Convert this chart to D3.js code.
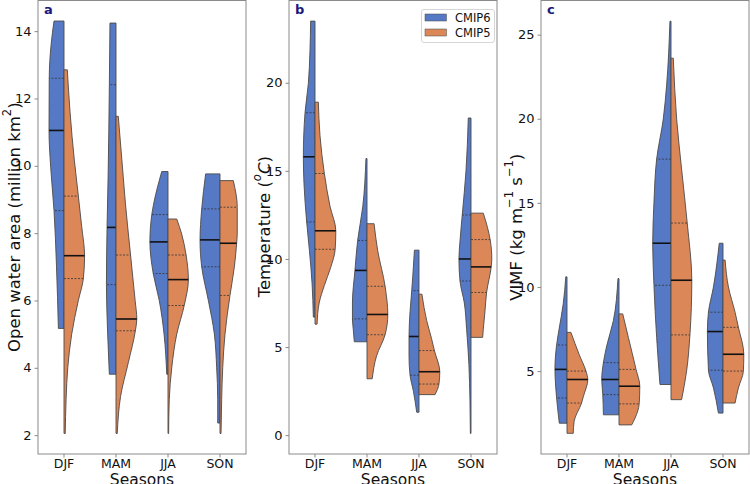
<!DOCTYPE html>
<html><head><meta charset="utf-8">
<script src="https://cdn.jsdelivr.net/npm/d3@7"></script>
<style>body{margin:0;background:#fff}svg{display:block;font-family:"DejaVu Sans",sans-serif}</style>
</head><body><svg id="c" width="750" height="484"></svg>
<script>
const seasons = ["DJF","MAM","JJA","SON"];
const seriesNames = ["CMIP6","CMIP5"];
const seriesColors = ["#5679C5","#DC8758"];

// Panel a: Open water area — [season][series] = [q1, median, q3]
const owaQuartiles = [
  [[8.67,11.05,12.6],[6.65,7.33,9.1]],
  [[6.47,8.17,12.41],[5.1,5.45,7.35]],
  [[6.8,7.74,8.55],[5.85,6.62,7.35]],
  [[7.0,7.8,8.72],[6.15,7.7,8.77]]
];
// density outline [value, relative half-width], from max to min
const owaProfiles = [
  [[[14.3,.48],[13.6,.62],[12.6,.71],[11.05,.72],[9.95,.64],[8.67,.48],[7.0,.36],[5.17,.27]],
   [[12.85,.16],[11.6,.29],[10.15,.50],[9.1,.69],[8.2,.85],[7.33,.99],[6.65,.93],[6.0,.69],[5.0,.37],[4.0,.18],[3.05,.10],[2.05,.06]]],
  [[[14.24,.29],[12.4,.32],[9.66,.38],[8.17,.43],[6.47,.46],[5.0,.40],[3.81,.32]],
   [[11.47,.11],[9.66,.35],[8.9,.45],[7.35,.70],[6.0,.92],[5.45,1.0],[5.1,.93],[4.15,.59],[3.15,.22],[2.05,.06]]],
  [[[9.83,.30],[8.93,.67],[8.55,.78],[7.74,.87],[6.8,.71],[6.0,.42],[5.0,.19],[3.81,.06]],
   [[8.42,.42],[7.97,.66],[7.35,.87],[6.62,.98],[5.85,.78],[5.0,.42],[4.0,.18],[3.05,.06],[2.05,.03]]],
  [[[9.76,.69],[8.72,.88],[7.8,.96],[7.0,.88],[6.0,.56],[5.0,.27],[4.0,.16],[3.05,.11],[2.36,.11]],
   [[9.56,.64],[8.77,.83],[8.0,.83],[7.7,.80],[7.0,.69],[6.15,.48],[5.0,.24],[4.0,.13],[3.05,.08],[2.05,.05]]]
];
const owaTicks = [2,4,6,8,10,12,14];

// Panel b: Temperature
const tempQuartiles = [
  [[12.1,15.8,18.3],[10.55,11.6,14.85]],
  [[6.6,9.35,11.05],[5.7,6.85,8.45]],
  [[3.4,5.6,8.2],[2.9,3.6,4.8]],
  [[8.75,10.0,12.5],[8.1,9.55,11.1]]
];
const tempProfiles = [
  [[[23.5,.21],[21.85,.24],[19.96,.32],[18.3,.48],[15.8,.56],[14.3,.53],[12.1,.40],[10.5,.27],[8.6,.14],[6.7,.08]],
   [[18.9,.16],[17,.24],[14.85,.45],[13,.72],[11.6,1.0],[10.55,.97],[9.5,.75],[8.5,.45],[7.5,.2],[6.3,.1]]],
  [[[15.7,.05],[13,.2],[11.05,.45],[9.35,.58],[7.5,.7],[6.6,.7],[6.0,.66],[5.3,.61]],
   [[12.0,.34],[10.5,.51],[8.45,.87],[6.85,1.0],[5.7,.87],[4.5,.46],[3.2,.25]]],
  [[[10.5,.22],[9,.3],[8.2,.35],[7,.43],[5.6,.48],[4.5,.48],[3.4,.43],[2.5,.27],[1.3,.11]],
   [[8.0,.14],[6.5,.37],[5.5,.6],[4.8,.74],[3.6,1.0],[2.9,.96],[2.3,.77]]],
  [[[18,.13],[15,.24],[12.5,.42],[11,.53],[10,.58],[8.75,.53],[7.5,.32],[6,.21],[4,.1],[2,.05],[0.1,.03]],
   [[12.6,.59],[11.8,.79],[11.1,.92],[10,1.0],[9.55,.97],[8.1,.75],[7,.67],[6,.59],[5.55,.56]]]
];
const tempTicks = [0,5,10,15,20];

// Panel c: VIMF
const vimfQuartiles = [
  [[3.4,5.1,6.55],[3.1,4.5,5.0]],
  [[3.6,4.5,5.5],[3.05,4.1,5.1]],
  [[10.1,12.6,17.6],[7.15,10.4,13.8]],
  [[5.05,7.35,8.5],[5.0,6.0,7.6]]
];
const vimfProfiles = [
  [[[10.6,.06],[9,.18],[7.5,.38],[6.55,.5],[5.1,.58],[4,.54],[3.4,.5],[1.9,.37]],
   [[7.3,.19],[6,.58],[5.0,.91],[4.5,1.0],[3.5,.79],[3.1,.7],[2.0,.34],[1.3,.3]]],
  [[[10.5,.05],[8,.27],[6.5,.59],[5.5,.75],[4.5,.83],[3.6,.78],[2.4,.75]],
   [[8.4,.18],[7,.45],[5.1,.82],[4.1,1.0],[3.05,.97],[2.2,.77],[1.8,.61]]],
  [[[25.8,.05],[22,.21],[20,.37],[17.6,.69],[15,.82],[12.6,.88],[10.1,.82],[7,.69],[4.2,.53]],
   [[23.6,.11],[20,.27],[17,.51],[13.8,.78],[10.4,1.0],[7.15,.91],[5,.75],[3.3,.51]]],
  [[[12.6,.18],[10,.46],[8.5,.7],[7.35,.75],[5.05,.7],[4,.46],[2.5,.22]],
   [[11.6,.1],[10,.26],[8.5,.58],[7.6,.74],[6.0,1.0],[5.0,.98],[4,.74],[3.1,.58]]]
];
const vimfTicks = [5,10,15,20,25];

const panels = [
  {letter:"a", x0:38, x1:246, domain:[1.44,14.91], ticks:owaTicks, q:owaQuartiles, p:owaProfiles, labelX:14,
   label:[["Open water area (million km",0],["2",1],[")",0]]},
  {letter:"b", x0:289, x1:497, domain:[-1.07,24.67], ticks:tempTicks, q:tempQuartiles, p:tempProfiles, labelX:264,
   label:[["Temperature (",0],["o",1,"italic"],["C",0,"italic"],[")",0]], legend:true},
  {letter:"c", x0:541, x1:749, domain:[0.07,27.03], ticks:vimfTicks, q:vimfQuartiles, p:vimfProfiles, labelX:516,
   label:[["VIMF  (kg m",0],["\u22121",1],[" s",0],["\u22121",1],[")",0]]}
];
const plotTop = 0.5, plotBottom = 454;
const svg = d3.select("#c");
const frameColor = "#8a8a8a", edgeColor = "#4a4a4a";

panels.forEach(P => {
  const g = svg.append("g");
  const x = d3.scaleBand().domain(seasons).range([P.x0, P.x1]);
  const y = d3.scaleLinear().domain(P.domain).range([plotBottom, plotTop]);
  const bw = x.bandwidth();
  const halfW = bw * 0.4;

  seasons.forEach((s, si) => {
    const cx = x(s) + bw / 2;
    [0, 1].forEach(k => {
      const prof = P.p[si][k];
      const dir = k === 0 ? -1 : 1;
      const area = d3.area()
        .y(d => y(d[0]))
        .x0(cx)
        .x1(d => cx + dir * d[1] * halfW)
        .curve(d3.curveMonotoneY);
      g.append("path").attr("d", area(prof))
        .attr("fill", seriesColors[k]).attr("stroke", edgeColor).attr("stroke-width", 0.9);
      const widthAt = v => {
        for (let i = 0; i < prof.length - 1; i++) {
          const a = prof[i], b = prof[i + 1];
          if (v <= a[0] && v >= b[0]) { const t = (a[0] - v) / (a[0] - b[0]); return a[1] + t * (b[1] - a[1]); }
        }
        return 0;
      };
      P.q[si][k].forEach((v, qi) => {
        const w = widthAt(v) * halfW;
        g.append("line").attr("x1", cx).attr("x2", cx + dir * w)
          .attr("y1", y(v)).attr("y2", y(v))
          .attr("stroke", qi === 1 ? "#111" : "#333")
          .attr("stroke-width", qi === 1 ? 1.6 : 0.8)
          .attr("stroke-dasharray", qi === 1 ? null : "2,1.5");
      });
    });
  });

  g.append("rect").attr("x", P.x0).attr("y", plotTop).attr("width", P.x1 - P.x0).attr("height", plotBottom - plotTop)
    .attr("fill", "none").attr("stroke", frameColor).attr("stroke-width", 1);

  const ya = d3.axisLeft(y).tickValues(P.ticks).tickSize(3.5).tickPadding(3);
  const yg = g.append("g").attr("transform", `translate(${P.x0},0)`).call(ya);
  yg.select(".domain").remove();
  yg.selectAll(".tick line").attr("stroke", frameColor);
  yg.selectAll(".tick text").attr("font-size", 13).attr("fill", "#111").attr("font-family", "DejaVu Sans");

  const xa = d3.axisBottom(x).tickSize(3.5).tickPadding(2);
  const xg = g.append("g").attr("transform", `translate(0,${plotBottom})`).call(xa);
  xg.select(".domain").remove();
  xg.selectAll(".tick line").attr("stroke", frameColor);
  xg.selectAll(".tick text").attr("font-size", 12.5).attr("fill", "#111").attr("font-family", "DejaVu Sans");

  g.append("text").attr("x", (P.x0 + P.x1) / 2).attr("y", 485).attr("text-anchor", "middle")
    .attr("font-size", 15.5).attr("fill", "#111").text("Seasons");

  const yl = g.append("text").attr("transform", `translate(${P.labelX},${(plotTop + plotBottom) / 2}) rotate(-90)`)
    .attr("x", 0).attr("text-anchor", "start").attr("dominant-baseline", "central").attr("font-size", 16.5).attr("fill", "#111");
  P.label.forEach(([t, sup, st]) => {
    const ts = yl.append("tspan").text(t);
    if (sup) ts.attr("baseline-shift", "super").attr("font-size", 11.5);
    if (st) ts.attr("font-style", st);
  });
  const bb = yl.node().getBBox();
  yl.attr("x", -(bb.x + bb.width / 2));

  g.append("text").attr("x", P.x0 + 6).attr("y", 14).attr("font-size", 13).attr("font-weight", "bold")
    .attr("fill", "#1a1a7e").text(P.letter);

  if (P.legend) {
    const lx = 421.5, ly = 9.5;
    const lg = g.append("g");
    lg.append("rect").attr("x", lx).attr("y", ly).attr("width", 73).attr("height", 33).attr("rx", 2.5)
      .attr("fill", "#fff").attr("fill-opacity", 0.8).attr("stroke", "#d6d6d6");
    seriesNames.forEach((n, i) => {
      lg.append("rect").attr("x", lx + 3.5).attr("y", ly + 4.5 + i * 15).attr("width", 21.5).attr("height", 7)
        .attr("fill", seriesColors[i]).attr("stroke", edgeColor).attr("stroke-width", 0.5);
      lg.append("text").attr("x", lx + 33.5).attr("y", ly + 8 + i * 15).attr("dominant-baseline", "central")
        .attr("font-size", 11.5).attr("fill", "#111").text(n);
    });
  }
});
</script></body></html>
